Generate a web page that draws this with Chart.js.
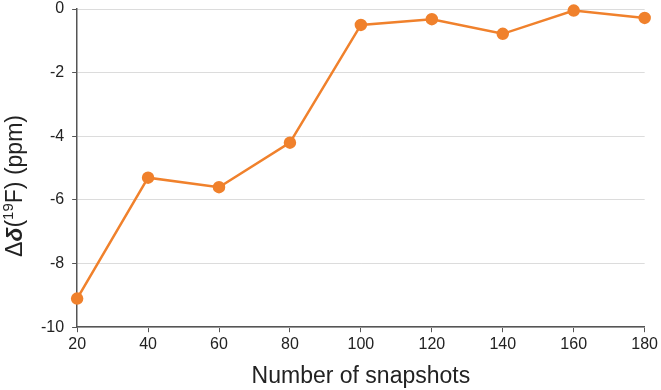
<!DOCTYPE html>
<html>
<head>
<meta charset="utf-8">
<script src="https://cdn.jsdelivr.net/npm/chart.js@4"></script>
<style>
  html, body { margin: 0; padding: 0; background: #fff; }
  #wrap { width: 661px; height: 390px; position: relative; }
</style>
</head>
<body>
<div id="wrap"><canvas id="chart"></canvas></div>
<script>
const snapshots = [20, 40, 60, 80, 100, 120, 140, 160, 180];
const deltaShift = [-9.1, -5.3, -5.6, -4.2, -0.5, -0.32, -0.78, -0.05, -0.28];
const xTitle = 'Number of snapshots';
// y title pieces: [text, style]
const yTitleParts = [['Δ', 'n'], ['δ', 'bi'], ['(', 'n'], ['19', 'sup'], ['F) (ppm)', 'n']];

const FONT = '"Liberation Sans", Arial, Helvetica, sans-serif';
const orange = '#F0812C';

// draws the rotated y-axis title with mixed styles
const yTitlePlugin = {
    id: 'yTitle',
    afterDraw(chart) {
        const ctx = chart.ctx;
        const fonts = {
            n: `23px ${FONT}`,
            bi: `italic bold 23px ${FONT}`,
            sup: `15px ${FONT}`
        };
        ctx.save();
        let total = 0;
        yTitleParts.forEach(([t, s]) => { ctx.font = fonts[s]; total += ctx.measureText(t).width; });
        ctx.translate(16, 186);
        ctx.rotate(-Math.PI / 2);
        ctx.fillStyle = '#222';
        ctx.textBaseline = 'middle';
        let x = -total / 2;
        yTitleParts.forEach(([t, s]) => {
            ctx.font = fonts[s];
            ctx.fillText(t, x, s === 'sup' ? -7 : 0);
            x += ctx.measureText(t).width;
        });
        ctx.restore();
    }
};

new Chart(document.getElementById('chart'), {
    type: 'line',
    data: {
        datasets: [{
            data: snapshots.map((s, i) => ({ x: s, y: deltaShift[i] })),
            borderColor: orange,
            backgroundColor: orange,
            borderWidth: 2.5,
            pointRadius: 5,
            pointHoverRadius: 5,
            tension: 0,
            clip: false
        }]
    },
    options: {
        responsive: true,
        maintainAspectRatio: false,
        animation: false,
        layout: { autoPadding: false, padding: { left: 33, right: 14, top: 0, bottom: 0 } },
        plugins: { legend: { display: false }, tooltip: { enabled: false } },
        scales: {
            x: {
                type: 'linear',
                min: 20, max: 180,
                ticks: { stepSize: 20, color: '#222', font: { family: FONT, size: 16 }, padding: 3, maxRotation: 0 },
                grid: { display: true, drawOnChartArea: false, drawTicks: true, tickLength: 5, color: '#555' },
                border: { color: '#555', width: 1.5 },
                title: { display: true, text: xTitle, color: '#222', font: { family: FONT, size: 23 }, padding: { top: 5, bottom: 0 } }
            },
            y: {
                min: -10, max: 0,
                ticks: { stepSize: 2, color: '#222', font: { family: FONT, size: 16, lineHeight: 0.6 }, padding: 8 },
                grid: { color: '#dcdcdc', tickColor: '#555', tickLength: 5, lineWidth: 1 },
                border: { color: '#555', width: 1.5 },
                afterFit(scale) { scale.paddingTop = 9; }
            }
        }
    },
    plugins: [yTitlePlugin]
});
</script>
</body>
</html>
